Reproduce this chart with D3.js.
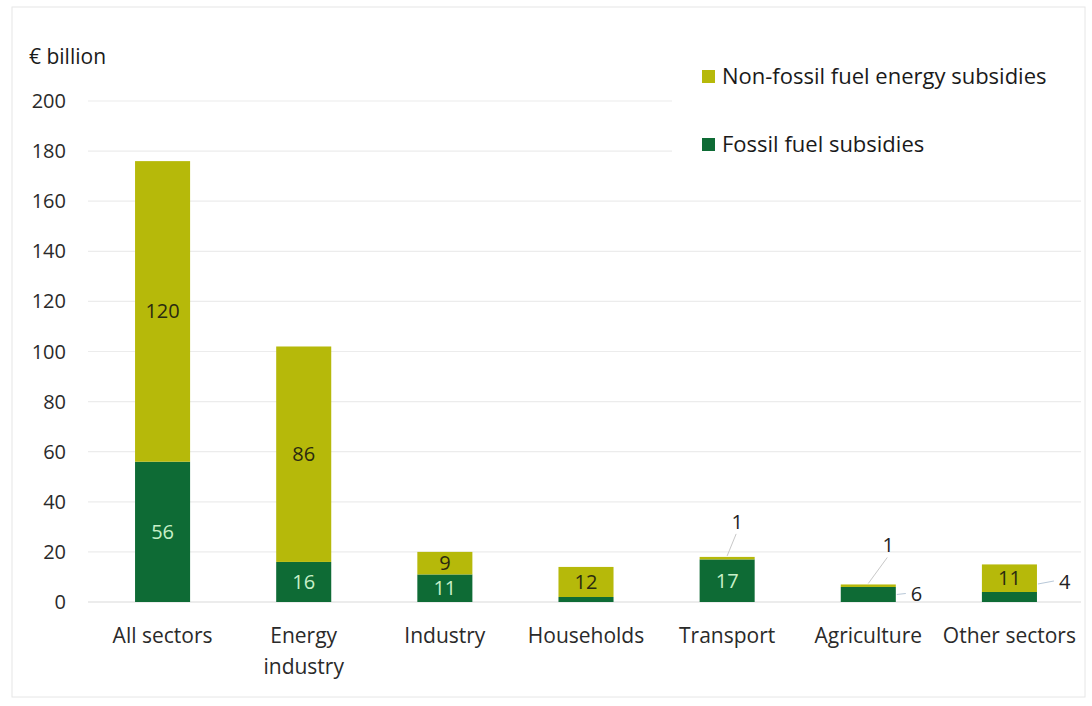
<!DOCTYPE html>
<html><head><meta charset="utf-8">
<script src="https://cdn.jsdelivr.net/npm/d3@7/dist/d3.min.js"></script>
<style>body{margin:0;background:#fff}svg{font-family:"Open Sans",Lato,sans-serif}</style>
</head><body><svg id="c" width="1092" height="706"></svg>
<script>
const categories = [["All sectors"],["Energy","industry"],["Industry"],["Households"],["Transport"],["Agriculture"],["Other sectors"]];
const fossil = [56,16,11,2,17,6,4];
const nonFossil = [120,86,9,12,1,1,11];
const yTicks = [0,20,40,60,80,100,120,140,160,180,200];
const seriesNames = ["Non-fossil fuel energy subsidies","Fossil fuel subsidies"];
// label placement: "in" = inside bar, "right"/"above" = outside with leader, null = none
const fossilLabelMode = ["in","in","in",null,"in","right","right"];
const nonFossilLabelMode = ["in","in","in","in","above","above","in"];

const cFossil = "#0e6b35", cNon = "#b6b90a";
const FS = 21, FT = 20;
const svg = d3.select("#c");
svg.append("rect").attr("x",12).attr("y",7).attr("width",1073).attr("height",690).attr("fill","#fff").attr("stroke","#e6e6e6");

const x = d3.scaleBand().domain(d3.range(categories.length)).range([92,1080]).paddingInner(0.61).paddingOuter(0.305);
const y = d3.scaleLinear().domain([0,200]).range([602,101]);

const g = svg.append("g");
g.selectAll("line.grid").data(yTicks).join("line").attr("x1",88).attr("x2",1081)
 .attr("y1",d=>y(d)).attr("y2",d=>y(d)).attr("stroke",d=>d===0?"#d9d9d9":"#ececec").attr("stroke-width",1.2);
g.selectAll("text.yt").data(yTicks).join("text").attr("x",66).attr("y",d=>y(d)+7).attr("text-anchor","end")
 .attr("font-size",FT).attr("fill","#2a2a2a").text(d=>d);
svg.append("text").attr("x",29).attr("y",64).attr("font-size",FS).attr("fill","#1a1a1a").text("€ billion");

const bw = x.bandwidth();
categories.forEach((c,i)=>{
  const x0 = x(i), cx = x0+bw/2;
  g.append("rect").attr("x",x0).attr("width",bw).attr("y",y(fossil[i])).attr("height",y(0)-y(fossil[i])).attr("fill",cFossil);
  g.append("rect").attr("x",x0).attr("width",bw).attr("y",y(fossil[i]+nonFossil[i])).attr("height",y(fossil[i])-y(fossil[i]+nonFossil[i])).attr("fill",cNon);
  if(fossilLabelMode[i]==="in"){
    g.append("text").attr("x",cx).attr("y",(y(0)+y(fossil[i]))/2+7).attr("text-anchor","middle").attr("font-size",FT).attr("fill","#c8f0c8").text(fossil[i]);
  } else if(fossilLabelMode[i]==="right"){
    const yy=(y(0)+y(fossil[i]))/2 - (i===6?15:0);
    const gap = i===6 ? 22 : 15;
    g.append("line").attr("x1",x0+bw+1).attr("x2",x0+bw+gap-5).attr("y1",yy+(i===6?2:0)).attr("y2",yy-1).attr("stroke","#b8c8d8");
    g.append("text").attr("x",x0+bw+gap).attr("y",yy+7).attr("font-size",FT).attr("fill","#222").text(fossil[i]);
  }
  const tot = fossil[i]+nonFossil[i];
  if(nonFossilLabelMode[i]==="in"){
    g.append("text").attr("x",cx).attr("y",(y(fossil[i])+y(tot))/2+7).attr("text-anchor","middle").attr("font-size",FT).attr("fill","#2a2a10").text(nonFossil[i]);
  } else if(nonFossilLabelMode[i]==="above"){
    const yt=y(tot);
    const tx = i===4 ? cx+10 : cx+20;
    const ty = i===4 ? yt-28 : yt-32;
    g.append("line").attr("x1",cx).attr("y1",yt-1).attr("x2",tx-1).attr("y2",ty+5).attr("stroke","#c8c8c8");
    g.append("text").attr("x",tx).attr("y",ty).attr("text-anchor","middle").attr("font-size",FT).attr("fill","#222").text(nonFossil[i]);
  }
  const t = g.append("text").attr("text-anchor","middle").attr("font-size",FS).attr("fill","#2a2a2a");
  c.forEach((ln,k)=>t.append("tspan").attr("x",cx).attr("y",643+k*31).text(ln));
});

// legend
const leg = svg.append("g");
leg.append("rect").attr("x",672).attr("y",55).attr("width",410).attr("height",112).attr("fill","#fff");
[[cNon,seriesNames[0],76],[cFossil,seriesNames[1],144]].forEach(([col,name,yy])=>{
  leg.append("rect").attr("x",702).attr("y",yy-6).attr("width",13).attr("height",13).attr("fill",col);
  leg.append("text").attr("x",722).attr("y",yy+8).attr("font-size",22).attr("fill","#1a1a1a").text(name);
});
</script></body></html>
